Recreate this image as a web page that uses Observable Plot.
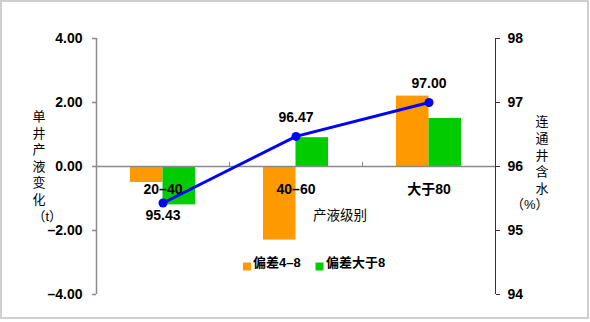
<!DOCTYPE html>
<html><head><meta charset="utf-8">
<script src="https://cdn.jsdelivr.net/npm/d3@7"></script>
<script src="https://cdn.jsdelivr.net/npm/@observablehq/plot@0.6"></script>
<style>
body{margin:0;background:#fff;}
#wrap{position:relative;width:590px;height:322px;}
#border{position:absolute;left:0;top:0;width:585px;height:315px;border:2px solid #cfcfcf;pointer-events:none;}
</style>
</head><body>
<div id="wrap"><div id="border"></div></div>
<script>
const categories = ["20–40", "40–60", "大于80"];
const seriesNames = ["偏差4–8", "偏差大于8"];
const dev4to8 = [-0.5, -2.3, 2.2];
const devOver8 = [-1.2, 0.9, 1.5];
const waterCut = [95.43, 96.47, 97.00];
const leftTicks = [-4, -2, 0, 2, 4];
const rightTicks = [94, 95, 96, 97, 98];
const colors = ["#FF9900", "#00CC00"];
const axisTitleLeft = "单井产液变化（t）";
const axisTitleRight = "连通井含水（%）";
const xTitle = "产液级别";

// map right-axis (water cut, 94..98) onto the left scale (-4..4)
const toLeft = w => (w - 96) * 2;

const orange = categories.map((c, i) => ({cat: c, v: dev4to8[i]}));
const green = categories.map((c, i) => ({cat: c, v: devOver8[i]}));
const line = categories.map((c, i) => ({cat: c, w: waterCut[i], y: toLeft(waterCut[i])}));
const lineLow = line.filter(d => d.w < 96);
const lineHigh = line.filter(d => d.w >= 96);

const font = "'Liberation Sans', Arial, 'Noto Sans CJK SC', sans-serif";
function stack(s) {
  const m = s.match(/^(.*?)（(.*)）$/);
  return Array.from(m[1]).join("\n") + "\n（" + m[2] + "）";
}

const plot = Plot.plot({
  width: 590, height: 322,
  marginLeft: 96, marginRight: 95, marginTop: 38, marginBottom: 28,
  style: {fontFamily: font, background: "transparent", overflow: "visible"},
  x: {type: "band", domain: categories, padding: 0, axis: null},
  y: {domain: [-4, 4], axis: null},
  marks: [
    Plot.barY(orange, {x: "cat", y: "v", fill: colors[0], insetLeft: 34, insetRight: 66.5}),
    Plot.barY(green, {x: "cat", y: "v", fill: colors[1], insetLeft: 66.5, insetRight: 34}),
    Plot.ruleY([0], {stroke: "#8a8a8a", strokeWidth: 1.5}),
    Plot.ruleX(categories.slice(1), {x: d => d, dx: -66.5, y1: 0, y2: 0.13, stroke: "#8a8a8a"}),
    Plot.ruleX([categories[0]], {x: d => d, dx: -66.5, y1: -4, y2: 4, stroke: "#8a8a8a", strokeWidth: 1.5}),
    Plot.ruleX([categories[categories.length - 1]], {x: d => d, dx: 66.5, y1: -4, y2: 4, stroke: "#333", strokeWidth: 1}),
    Plot.axisY({anchor: "left", ticks: leftTicks, tickSize: 4, tickPadding: 10, tickFormat: d => d.toFixed(2).replace("-", "–"), fontSize: 14, fontWeight: "bold", stroke: "#8a8a8a", strokeWidth: 1.5, label: null}),
    Plot.axisY({anchor: "right", ticks: rightTicks.map(toLeft), tickSize: 4, tickPadding: 8, tickFormat: (d, i) => String(rightTicks[i]), fontSize: 14, fontWeight: "bold", stroke: "#333", label: null}),
    Plot.text(categories, {x: d => d, y: 0, dy: 23, text: d => d, fontSize: 14, fontWeight: "bold", fill: "#000"}),
    Plot.line(line, {x: "cat", y: "y", stroke: "#0000FF", strokeWidth: 3}),
    Plot.dot(line, {x: "cat", y: "y", r: 4.5, fill: "#0000FF"}),
    Plot.text(lineLow, {x: "cat", y: "y", text: d => d.w.toFixed(2), dy: 13, fontSize: 14, fontWeight: "bold", fill: "#000"}),
    Plot.text(lineHigh, {x: "cat", y: "y", text: d => d.w.toFixed(2), dy: -19, fontSize: 14, fontWeight: "bold", fill: "#000"}),
    Plot.text([xTitle], {frameAnchor: "middle", dx: 44, dy: 49, fontSize: 13.5, fill: "#000"}),
    Plot.text([stack(axisTitleLeft)], {frameAnchor: "left", dx: -64, dy: -1, fontSize: 13, lineHeight: 1.28, fill: "#000"}),
    Plot.text([stack(axisTitleRight)], {frameAnchor: "right", dx: 53, dy: -4, fontSize: 13, lineHeight: 1.28, fill: "#000"}),
    Plot.dot([seriesNames[0]], {frameAnchor: "bottom", dx: -49, dy: -28, symbol: "square", r: 4.5, fill: colors[0]}),
    Plot.text([seriesNames[0]], {frameAnchor: "bottom", dx: -43, dy: -28, textAnchor: "start", fontSize: 13, fontWeight: "bold", fill: "#000"}),
    Plot.dot([seriesNames[1]], {frameAnchor: "bottom", dx: 23.5, dy: -28, symbol: "square", r: 4.5, fill: colors[1]}),
    Plot.text([seriesNames[1]], {frameAnchor: "bottom", dx: 30, dy: -28, textAnchor: "start", fontSize: 13, fontWeight: "bold", fill: "#000"})
  ]
});
plot.style.position = "absolute";
plot.style.left = "0";
plot.style.top = "0";
document.getElementById("wrap").appendChild(plot);
</script>
</body></html>
